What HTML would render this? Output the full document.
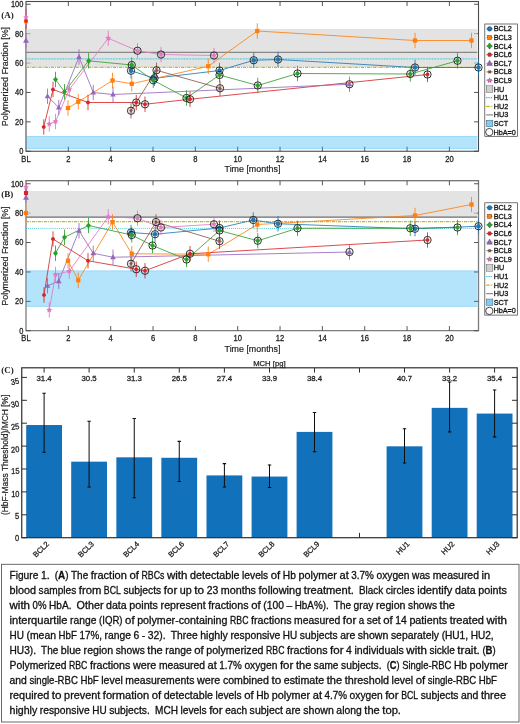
<!DOCTYPE html>
<html lang="en"><head><meta charset="utf-8"><title>Figure 1</title>
<style>html,body{margin:0;padding:0;background:#fff}svg{display:block}</style></head>
<body>
<svg width="520" height="724" viewBox="0 0 520 724">
<rect width="520" height="724" fill="#fff"/>
<g>
<rect x="26" y="1.5" width="452.5" height="149.75" fill="none" stroke="#4a4a4a" stroke-width="1.1"/>
<path d="M68.34,151.25v-4.5M68.34,1.5v4.5M110.68,151.25v-4.5M110.68,1.5v4.5M153.02,151.25v-4.5M153.02,1.5v4.5M195.36,151.25v-4.5M195.36,1.5v4.5M237.70,151.25v-4.5M237.70,1.5v4.5M280.04,151.25v-4.5M280.04,1.5v4.5M322.38,151.25v-4.5M322.38,1.5v4.5M364.72,151.25v-4.5M364.72,1.5v4.5M407.06,151.25v-4.5M407.06,1.5v4.5M449.40,151.25v-4.5M449.40,1.5v4.5M26,151.25h4.7M478.5,151.25h-4.5M26,121.85h4.7M478.5,121.85h-4.5M26,92.45h4.7M478.5,92.45h-4.5M26,63.05h4.7M478.5,63.05h-4.5M26,33.65h4.7M478.5,33.65h-4.5M26,4.25h4.7M478.5,4.25h-4.5" stroke="#444" stroke-width="0.9" fill="none"/>
<rect x="26.45" y="29.00" width="450.85" height="38.00" fill="#d4d4d4" fill-opacity="0.66"/>
<rect x="26.45" y="136.00" width="450.85" height="13.10" fill="#02a5f5" fill-opacity="0.3"/>
<path d="M26.45,136.40H477.3M26.45,148.70H477.3" stroke="#6fc4f2" stroke-opacity="0.45" stroke-width="0.8" fill="none"/>
<line x1="26" x2="477.3" y1="52.30" y2="52.30" stroke="#5c5c5c" stroke-width="0.85"/>
<line x1="26" x2="477.3" y1="58.80" y2="58.80" stroke="#35c4d6" stroke-width="1.25" stroke-dasharray="0.8 0.75"/>
<line x1="26" x2="477.3" y1="67.40" y2="67.40" stroke="#bdbe1e" stroke-width="1.15" stroke-dasharray="3.2 1 1 1"/>
<path d="M131.00,70.75L154.50,78.25L219.50,70.50L253.75,60.25L278.00,59.50L415.00,67.50L478.50,67.50" fill="none" stroke="#1f77b4" stroke-width="0.95" stroke-opacity="0.88"/>
<path d="M68.00,108.00L78.25,101.75L112.50,80.50L131.75,83.75L208.25,66.25L257.25,31.00L415.00,40.50L471.50,40.50" fill="none" stroke="#ff7f0e" stroke-width="0.95" stroke-opacity="0.88"/>
<path d="M55.50,79.50L64.50,91.75L88.60,60.80L131.75,65.00L153.25,80.25L186.50,98.00L219.50,75.00L257.75,85.50L297.50,73.50L410.25,74.00L457.50,60.75" fill="none" stroke="#2ca02c" stroke-width="0.95" stroke-opacity="0.88"/>
<path d="M43.75,127.00L53.00,89.50L88.00,102.50L136.25,102.50L145.00,104.25L190.00,99.25L427.50,74.50" fill="none" stroke="#d62728" stroke-width="0.95" stroke-opacity="0.88"/>
<path d="M47.50,96.25L58.75,107.50L79.00,57.00L93.25,92.50L113.00,94.50L349.50,84.25" fill="none" stroke="#9467bd" stroke-width="0.95" stroke-opacity="0.88"/>
<path d="M131.00,110.75L156.50,70.25L220.00,88.25" fill="none" stroke="#8c564b" stroke-width="0.95" stroke-opacity="0.88"/>
<path d="M49.25,124.00L55.50,121.50L69.25,89.50L108.25,38.25L137.50,50.75L161.00,54.50L214.00,55.50" fill="none" stroke="#e377c2" stroke-width="0.95" stroke-opacity="0.88"/>
<line x1="131.00" x2="131.00" y1="63.05" y2="78.45" stroke="#1f77b4" stroke-width="1" stroke-opacity="0.85"/>
<line x1="154.50" x2="154.50" y1="70.55" y2="85.95" stroke="#1f77b4" stroke-width="1" stroke-opacity="0.85"/>
<line x1="219.50" x2="219.50" y1="62.80" y2="78.20" stroke="#1f77b4" stroke-width="1" stroke-opacity="0.85"/>
<line x1="253.75" x2="253.75" y1="52.55" y2="67.95" stroke="#1f77b4" stroke-width="1" stroke-opacity="0.85"/>
<line x1="278.00" x2="278.00" y1="51.80" y2="67.20" stroke="#1f77b4" stroke-width="1" stroke-opacity="0.85"/>
<line x1="415.00" x2="415.00" y1="59.80" y2="75.20" stroke="#1f77b4" stroke-width="1" stroke-opacity="0.85"/>
<line x1="478.50" x2="478.50" y1="59.80" y2="75.20" stroke="#1f77b4" stroke-width="1" stroke-opacity="0.85"/>
<line x1="68.00" x2="68.00" y1="100.30" y2="115.70" stroke="#ff7f0e" stroke-width="1" stroke-opacity="0.85"/>
<line x1="78.25" x2="78.25" y1="94.05" y2="109.45" stroke="#ff7f0e" stroke-width="1" stroke-opacity="0.85"/>
<line x1="112.50" x2="112.50" y1="72.80" y2="88.20" stroke="#ff7f0e" stroke-width="1" stroke-opacity="0.85"/>
<line x1="131.75" x2="131.75" y1="76.05" y2="91.45" stroke="#ff7f0e" stroke-width="1" stroke-opacity="0.85"/>
<line x1="208.25" x2="208.25" y1="58.55" y2="73.95" stroke="#ff7f0e" stroke-width="1" stroke-opacity="0.85"/>
<line x1="257.25" x2="257.25" y1="23.30" y2="38.70" stroke="#ff7f0e" stroke-width="1" stroke-opacity="0.85"/>
<line x1="415.00" x2="415.00" y1="32.80" y2="48.20" stroke="#ff7f0e" stroke-width="1" stroke-opacity="0.85"/>
<line x1="471.50" x2="471.50" y1="32.80" y2="48.20" stroke="#ff7f0e" stroke-width="1" stroke-opacity="0.85"/>
<line x1="55.50" x2="55.50" y1="71.80" y2="87.20" stroke="#2ca02c" stroke-width="1" stroke-opacity="0.85"/>
<line x1="64.50" x2="64.50" y1="84.05" y2="99.45" stroke="#2ca02c" stroke-width="1" stroke-opacity="0.85"/>
<line x1="88.60" x2="88.60" y1="53.10" y2="68.50" stroke="#2ca02c" stroke-width="1" stroke-opacity="0.85"/>
<line x1="131.75" x2="131.75" y1="57.30" y2="72.70" stroke="#2ca02c" stroke-width="1" stroke-opacity="0.85"/>
<line x1="153.25" x2="153.25" y1="72.55" y2="87.95" stroke="#2ca02c" stroke-width="1" stroke-opacity="0.85"/>
<line x1="186.50" x2="186.50" y1="90.30" y2="105.70" stroke="#2ca02c" stroke-width="1" stroke-opacity="0.85"/>
<line x1="219.50" x2="219.50" y1="67.30" y2="82.70" stroke="#2ca02c" stroke-width="1" stroke-opacity="0.85"/>
<line x1="257.75" x2="257.75" y1="77.80" y2="93.20" stroke="#2ca02c" stroke-width="1" stroke-opacity="0.85"/>
<line x1="297.50" x2="297.50" y1="65.80" y2="81.20" stroke="#2ca02c" stroke-width="1" stroke-opacity="0.85"/>
<line x1="410.25" x2="410.25" y1="66.30" y2="81.70" stroke="#2ca02c" stroke-width="1" stroke-opacity="0.85"/>
<line x1="457.50" x2="457.50" y1="53.05" y2="68.45" stroke="#2ca02c" stroke-width="1" stroke-opacity="0.85"/>
<line x1="43.75" x2="43.75" y1="119.30" y2="134.70" stroke="#d62728" stroke-width="1" stroke-opacity="0.85"/>
<line x1="53.00" x2="53.00" y1="81.80" y2="97.20" stroke="#d62728" stroke-width="1" stroke-opacity="0.85"/>
<line x1="88.00" x2="88.00" y1="94.80" y2="110.20" stroke="#d62728" stroke-width="1" stroke-opacity="0.85"/>
<line x1="136.25" x2="136.25" y1="94.80" y2="110.20" stroke="#d62728" stroke-width="1" stroke-opacity="0.85"/>
<line x1="145.00" x2="145.00" y1="96.55" y2="111.95" stroke="#d62728" stroke-width="1" stroke-opacity="0.85"/>
<line x1="190.00" x2="190.00" y1="91.55" y2="106.95" stroke="#d62728" stroke-width="1" stroke-opacity="0.85"/>
<line x1="427.50" x2="427.50" y1="66.80" y2="82.20" stroke="#d62728" stroke-width="1" stroke-opacity="0.85"/>
<line x1="47.50" x2="47.50" y1="88.55" y2="103.95" stroke="#9467bd" stroke-width="1" stroke-opacity="0.85"/>
<line x1="58.75" x2="58.75" y1="99.80" y2="115.20" stroke="#9467bd" stroke-width="1" stroke-opacity="0.85"/>
<line x1="79.00" x2="79.00" y1="49.30" y2="64.70" stroke="#9467bd" stroke-width="1" stroke-opacity="0.85"/>
<line x1="93.25" x2="93.25" y1="84.80" y2="100.20" stroke="#9467bd" stroke-width="1" stroke-opacity="0.85"/>
<line x1="113.00" x2="113.00" y1="86.80" y2="102.20" stroke="#9467bd" stroke-width="1" stroke-opacity="0.85"/>
<line x1="349.50" x2="349.50" y1="76.55" y2="91.95" stroke="#9467bd" stroke-width="1" stroke-opacity="0.85"/>
<line x1="131.00" x2="131.00" y1="103.05" y2="118.45" stroke="#8c564b" stroke-width="1" stroke-opacity="0.85"/>
<line x1="156.50" x2="156.50" y1="62.55" y2="77.95" stroke="#8c564b" stroke-width="1" stroke-opacity="0.85"/>
<line x1="220.00" x2="220.00" y1="80.55" y2="95.95" stroke="#8c564b" stroke-width="1" stroke-opacity="0.85"/>
<line x1="49.25" x2="49.25" y1="116.30" y2="131.70" stroke="#e377c2" stroke-width="1" stroke-opacity="0.85"/>
<line x1="55.50" x2="55.50" y1="113.80" y2="129.20" stroke="#e377c2" stroke-width="1" stroke-opacity="0.85"/>
<line x1="69.25" x2="69.25" y1="81.80" y2="97.20" stroke="#e377c2" stroke-width="1" stroke-opacity="0.85"/>
<line x1="108.25" x2="108.25" y1="30.55" y2="45.95" stroke="#e377c2" stroke-width="1" stroke-opacity="0.85"/>
<line x1="137.50" x2="137.50" y1="43.05" y2="58.45" stroke="#e377c2" stroke-width="1" stroke-opacity="0.85"/>
<line x1="161.00" x2="161.00" y1="46.80" y2="62.20" stroke="#e377c2" stroke-width="1" stroke-opacity="0.85"/>
<line x1="214.00" x2="214.00" y1="47.80" y2="63.20" stroke="#e377c2" stroke-width="1" stroke-opacity="0.85"/>
<circle cx="131.00" cy="70.75" r="2.30" fill="#1f77b4"/>
<circle cx="131.00" cy="70.75" r="3.65" fill="none" stroke="#1c1c1c" stroke-width="0.9"/>
<circle cx="154.50" cy="78.25" r="2.30" fill="#1f77b4"/>
<circle cx="154.50" cy="78.25" r="3.65" fill="none" stroke="#1c1c1c" stroke-width="0.9"/>
<circle cx="219.50" cy="70.50" r="2.30" fill="#1f77b4"/>
<circle cx="219.50" cy="70.50" r="3.65" fill="none" stroke="#1c1c1c" stroke-width="0.9"/>
<circle cx="253.75" cy="60.25" r="2.30" fill="#1f77b4"/>
<circle cx="253.75" cy="60.25" r="3.65" fill="none" stroke="#1c1c1c" stroke-width="0.9"/>
<circle cx="278.00" cy="59.50" r="2.30" fill="#1f77b4"/>
<circle cx="278.00" cy="59.50" r="3.65" fill="none" stroke="#1c1c1c" stroke-width="0.9"/>
<circle cx="415.00" cy="67.50" r="2.30" fill="#1f77b4"/>
<circle cx="415.00" cy="67.50" r="3.65" fill="none" stroke="#1c1c1c" stroke-width="0.9"/>
<circle cx="478.50" cy="67.50" r="2.30" fill="#1f77b4"/>
<circle cx="478.50" cy="67.50" r="3.65" fill="none" stroke="#1c1c1c" stroke-width="0.9"/>
<rect x="65.85" y="105.85" width="4.30" height="4.30" fill="#ff7f0e"/>
<rect x="76.10" y="99.60" width="4.30" height="4.30" fill="#ff7f0e"/>
<rect x="110.35" y="78.35" width="4.30" height="4.30" fill="#ff7f0e"/>
<rect x="129.60" y="81.60" width="4.30" height="4.30" fill="#ff7f0e"/>
<rect x="206.10" y="64.10" width="4.30" height="4.30" fill="#ff7f0e"/>
<rect x="255.10" y="28.85" width="4.30" height="4.30" fill="#ff7f0e"/>
<rect x="412.85" y="38.35" width="4.30" height="4.30" fill="#ff7f0e"/>
<rect x="469.35" y="38.35" width="4.30" height="4.30" fill="#ff7f0e"/>
<polygon points="55.50,76.40 58.00,79.50 55.50,82.60 53.00,79.50" fill="#2ca02c"/>
<polygon points="64.50,88.65 67.00,91.75 64.50,94.85 62.00,91.75" fill="#2ca02c"/>
<polygon points="88.60,57.70 91.10,60.80 88.60,63.90 86.10,60.80" fill="#2ca02c"/>
<polygon points="131.75,61.90 134.25,65.00 131.75,68.10 129.25,65.00" fill="#2ca02c"/>
<circle cx="131.75" cy="65.00" r="3.65" fill="none" stroke="#1c1c1c" stroke-width="0.9"/>
<polygon points="153.25,77.15 155.75,80.25 153.25,83.35 150.75,80.25" fill="#2ca02c"/>
<circle cx="153.25" cy="80.25" r="3.65" fill="none" stroke="#1c1c1c" stroke-width="0.9"/>
<polygon points="186.50,94.90 189.00,98.00 186.50,101.10 184.00,98.00" fill="#2ca02c"/>
<circle cx="186.50" cy="98.00" r="3.65" fill="none" stroke="#1c1c1c" stroke-width="0.9"/>
<polygon points="219.50,71.90 222.00,75.00 219.50,78.10 217.00,75.00" fill="#2ca02c"/>
<circle cx="219.50" cy="75.00" r="3.65" fill="none" stroke="#1c1c1c" stroke-width="0.9"/>
<polygon points="257.75,82.40 260.25,85.50 257.75,88.60 255.25,85.50" fill="#2ca02c"/>
<circle cx="257.75" cy="85.50" r="3.65" fill="none" stroke="#1c1c1c" stroke-width="0.9"/>
<polygon points="297.50,70.40 300.00,73.50 297.50,76.60 295.00,73.50" fill="#2ca02c"/>
<circle cx="297.50" cy="73.50" r="3.65" fill="none" stroke="#1c1c1c" stroke-width="0.9"/>
<polygon points="410.25,70.90 412.75,74.00 410.25,77.10 407.75,74.00" fill="#2ca02c"/>
<circle cx="410.25" cy="74.00" r="3.65" fill="none" stroke="#1c1c1c" stroke-width="0.9"/>
<polygon points="457.50,57.65 460.00,60.75 457.50,63.85 455.00,60.75" fill="#2ca02c"/>
<circle cx="457.50" cy="60.75" r="3.65" fill="none" stroke="#1c1c1c" stroke-width="0.9"/>
<polygon points="45.90,127.00 44.83,128.86 42.67,128.86 41.60,127.00 42.67,125.14 44.83,125.14" fill="#d62728"/>
<polygon points="55.15,89.50 54.08,91.36 51.92,91.36 50.85,89.50 51.92,87.64 54.08,87.64" fill="#d62728"/>
<polygon points="90.15,102.50 89.08,104.36 86.92,104.36 85.85,102.50 86.92,100.64 89.08,100.64" fill="#d62728"/>
<polygon points="138.40,102.50 137.32,104.36 135.18,104.36 134.10,102.50 135.18,100.64 137.32,100.64" fill="#d62728"/>
<circle cx="136.25" cy="102.50" r="3.65" fill="none" stroke="#1c1c1c" stroke-width="0.9"/>
<polygon points="147.15,104.25 146.07,106.11 143.93,106.11 142.85,104.25 143.93,102.39 146.07,102.39" fill="#d62728"/>
<circle cx="145.00" cy="104.25" r="3.65" fill="none" stroke="#1c1c1c" stroke-width="0.9"/>
<polygon points="192.15,99.25 191.07,101.11 188.93,101.11 187.85,99.25 188.93,97.39 191.07,97.39" fill="#d62728"/>
<circle cx="190.00" cy="99.25" r="3.65" fill="none" stroke="#1c1c1c" stroke-width="0.9"/>
<polygon points="429.65,74.50 428.57,76.36 426.43,76.36 425.35,74.50 426.43,72.64 428.57,72.64" fill="#d62728"/>
<circle cx="427.50" cy="74.50" r="3.65" fill="none" stroke="#1c1c1c" stroke-width="0.9"/>
<polygon points="47.50,93.15 50.30,98.35 44.70,98.35" fill="#9467bd"/>
<polygon points="58.75,104.40 61.55,109.60 55.95,109.60" fill="#9467bd"/>
<polygon points="79.00,53.90 81.80,59.10 76.20,59.10" fill="#9467bd"/>
<polygon points="93.25,89.40 96.05,94.60 90.45,94.60" fill="#9467bd"/>
<polygon points="113.00,91.40 115.80,96.60 110.20,96.60" fill="#9467bd"/>
<polygon points="349.50,81.15 352.30,86.35 346.70,86.35" fill="#9467bd"/>
<circle cx="349.50" cy="84.25" r="3.65" fill="none" stroke="#1c1c1c" stroke-width="0.9"/>
<path d="M128.60,110.75L133.40,110.75M129.80,108.67L132.20,112.83M132.20,108.67L129.80,112.83" stroke="#8c564b" stroke-width="0.8" fill="none"/><circle cx="131.00" cy="110.75" r="1.20" fill="#8c564b"/>
<circle cx="131.00" cy="110.75" r="3.65" fill="none" stroke="#1c1c1c" stroke-width="0.9"/>
<path d="M154.10,70.25L158.90,70.25M155.30,68.17L157.70,72.33M157.70,68.17L155.30,72.33" stroke="#8c564b" stroke-width="0.8" fill="none"/><circle cx="156.50" cy="70.25" r="1.20" fill="#8c564b"/>
<circle cx="156.50" cy="70.25" r="3.65" fill="none" stroke="#1c1c1c" stroke-width="0.9"/>
<path d="M217.60,88.25L222.40,88.25M218.80,86.17L221.20,90.33M221.20,86.17L218.80,90.33" stroke="#8c564b" stroke-width="0.8" fill="none"/><circle cx="220.00" cy="88.25" r="1.20" fill="#8c564b"/>
<circle cx="220.00" cy="88.25" r="3.65" fill="none" stroke="#1c1c1c" stroke-width="0.9"/>
<polygon points="49.25,120.80 50.13,122.79 52.29,123.01 50.68,124.46 51.13,126.59 49.25,125.50 47.37,126.59 47.82,124.46 46.21,123.01 48.37,122.79" fill="#e377c2"/>
<polygon points="55.50,118.30 56.38,120.29 58.54,120.51 56.93,121.96 57.38,124.09 55.50,123.00 53.62,124.09 54.07,121.96 52.46,120.51 54.62,120.29" fill="#e377c2"/>
<polygon points="69.25,86.30 70.13,88.29 72.29,88.51 70.68,89.96 71.13,92.09 69.25,91.00 67.37,92.09 67.82,89.96 66.21,88.51 68.37,88.29" fill="#e377c2"/>
<polygon points="108.25,35.05 109.13,37.04 111.29,37.26 109.68,38.71 110.13,40.84 108.25,39.75 106.37,40.84 106.82,38.71 105.21,37.26 107.37,37.04" fill="#e377c2"/>
<polygon points="137.50,47.55 138.38,49.54 140.54,49.76 138.93,51.21 139.38,53.34 137.50,52.25 135.62,53.34 136.07,51.21 134.46,49.76 136.62,49.54" fill="#e377c2"/>
<circle cx="137.50" cy="50.75" r="3.65" fill="none" stroke="#1c1c1c" stroke-width="0.9"/>
<polygon points="161.00,51.30 161.88,53.29 164.04,53.51 162.43,54.96 162.88,57.09 161.00,56.00 159.12,57.09 159.57,54.96 157.96,53.51 160.12,53.29" fill="#e377c2"/>
<circle cx="161.00" cy="54.50" r="3.65" fill="none" stroke="#1c1c1c" stroke-width="0.9"/>
<polygon points="214.00,52.30 214.88,54.29 217.04,54.51 215.43,55.96 215.88,58.09 214.00,57.00 212.12,58.09 212.57,55.96 210.96,54.51 213.12,54.29" fill="#e377c2"/>
<circle cx="214.00" cy="55.50" r="3.65" fill="none" stroke="#1c1c1c" stroke-width="0.9"/>
<line x1="26" x2="26" y1="21.20" y2="21.20" stroke="#ff7f0e" stroke-width="1.2" stroke-opacity="0.55"/>
<line x1="26" x2="26" y1="9.00" y2="29.00" stroke="#d62728" stroke-width="1.2" stroke-opacity="0.55"/>
<line x1="26" x2="26" y1="9.40" y2="25.40" stroke="#e377c2" stroke-width="1.2" stroke-opacity="0.55"/>
<line x1="26" x2="26" y1="33.60" y2="48.60" stroke="#9467bd" stroke-width="1.2" stroke-opacity="0.55"/>
<rect x="23.96" y="19.16" width="4.08" height="4.08" fill="#ff7f0e"/>
<polygon points="27.72,21.00 26.86,22.49 25.14,22.49 24.28,21.00 25.14,19.51 26.86,19.51" fill="#d62728"/>
<polygon points="26.00,14.36 26.84,16.25 28.89,16.46 27.36,17.84 27.79,19.86 26.00,18.82 24.21,19.86 24.64,17.84 23.11,16.46 25.16,16.25" fill="#e377c2"/>
<polygon points="26.00,37.34 28.94,42.80 23.06,42.80" fill="#9467bd"/>
<g font-family='"Liberation Sans", Arial, sans-serif' fill="#262626" stroke="#262626" stroke-width="0.3">
<text transform="translate(23.40,154.15) scale(0.9,1)" font-size="8.3" text-anchor="end">0</text>
<text transform="translate(23.40,124.75) scale(0.9,1)" font-size="8.3" text-anchor="end">20</text>
<text transform="translate(23.40,95.35) scale(0.9,1)" font-size="8.3" text-anchor="end">40</text>
<text transform="translate(23.40,65.95) scale(0.9,1)" font-size="8.3" text-anchor="end">60</text>
<text transform="translate(23.40,36.55) scale(0.9,1)" font-size="8.3" text-anchor="end">80</text>
<text transform="translate(23.40,7.15) scale(0.9,1)" font-size="8.3" text-anchor="end">100</text>
<text transform="translate(26.00,162.15) scale(0.9,1)" font-size="8.4" text-anchor="middle">BL</text>
<text transform="translate(68.34,162.15) scale(0.9,1)" font-size="8.4" text-anchor="middle">2</text>
<text transform="translate(110.68,162.15) scale(0.9,1)" font-size="8.4" text-anchor="middle">4</text>
<text transform="translate(153.02,162.15) scale(0.9,1)" font-size="8.4" text-anchor="middle">6</text>
<text transform="translate(195.36,162.15) scale(0.9,1)" font-size="8.4" text-anchor="middle">8</text>
<text transform="translate(237.70,162.15) scale(0.9,1)" font-size="8.4" text-anchor="middle">10</text>
<text transform="translate(280.04,162.15) scale(0.9,1)" font-size="8.4" text-anchor="middle">12</text>
<text transform="translate(322.38,162.15) scale(0.9,1)" font-size="8.4" text-anchor="middle">14</text>
<text transform="translate(364.72,162.15) scale(0.9,1)" font-size="8.4" text-anchor="middle">16</text>
<text transform="translate(407.06,162.15) scale(0.9,1)" font-size="8.4" text-anchor="middle">18</text>
<text transform="translate(449.40,162.15) scale(0.9,1)" font-size="8.4" text-anchor="middle">20</text>
</g>
<text x="252.5" y="172.25" text-anchor="middle" font-family='"Liberation Sans", Arial, sans-serif' font-size="8.9" fill="#262626" stroke="#262626" stroke-width="0.2">Time [months]</text>
<text transform="translate(8.2,76.6) rotate(-90)" text-anchor="middle" font-family='"Liberation Sans", Arial, sans-serif' font-size="8.95" fill="#262626" stroke="#262626" stroke-width="0.2">Polymerized Fraction [%]</text>
<text x="1.2" y="17.90" font-family='"Liberation Serif", serif' font-weight="bold" font-size="9" fill="#222">(A)</text>
<rect x="484.8" y="24" width="32.7" height="112.3" fill="#fff" stroke="#3a3a3a" stroke-width="0.7"/>
<g font-family='"Liberation Sans", Arial, sans-serif' fill="#111" stroke="#111" stroke-width="0.3">
<line x1="486.3" x2="492.90000000000003" y1="28.90" y2="28.90" stroke="#1f77b4" stroke-width="0.7"/>
<circle cx="489.60" cy="28.90" r="2.30" fill="#1f77b4"/>
<text transform="translate(493.70,31.45) scale(0.9,1)" font-size="8.1" text-anchor="start">BCL2</text>
<line x1="486.3" x2="492.90000000000003" y1="37.50" y2="37.50" stroke="#ff7f0e" stroke-width="0.7"/>
<rect x="487.45" y="35.35" width="4.30" height="4.30" fill="#ff7f0e"/>
<text transform="translate(493.70,40.05) scale(0.9,1)" font-size="8.1" text-anchor="start">BCL3</text>
<line x1="486.3" x2="492.90000000000003" y1="46.10" y2="46.10" stroke="#2ca02c" stroke-width="0.7"/>
<polygon points="489.60,43.00 492.10,46.10 489.60,49.20 487.10,46.10" fill="#2ca02c"/>
<text transform="translate(493.70,48.65) scale(0.9,1)" font-size="8.1" text-anchor="start">BCL4</text>
<line x1="486.3" x2="492.90000000000003" y1="54.70" y2="54.70" stroke="#d62728" stroke-width="0.7"/>
<polygon points="491.75,54.70 490.68,56.56 488.53,56.56 487.45,54.70 488.53,52.84 490.68,52.84" fill="#d62728"/>
<text transform="translate(493.70,57.25) scale(0.9,1)" font-size="8.1" text-anchor="start">BCL6</text>
<line x1="486.3" x2="492.90000000000003" y1="63.30" y2="63.30" stroke="#9467bd" stroke-width="0.7"/>
<polygon points="489.60,60.20 492.40,65.40 486.80,65.40" fill="#9467bd"/>
<text transform="translate(493.70,65.85) scale(0.9,1)" font-size="8.1" text-anchor="start">BCL7</text>
<line x1="486.3" x2="492.90000000000003" y1="71.90" y2="71.90" stroke="#8c564b" stroke-width="0.7"/>
<path d="M487.56,71.90L491.64,71.90M488.58,70.13L490.62,73.67M490.62,70.13L488.58,73.67" stroke="#8c564b" stroke-width="0.8" fill="none"/><circle cx="489.60" cy="71.90" r="1.02" fill="#8c564b"/>
<text transform="translate(493.70,74.45) scale(0.9,1)" font-size="8.1" text-anchor="start">BCL8</text>
<line x1="486.3" x2="492.90000000000003" y1="80.50" y2="80.50" stroke="#e377c2" stroke-width="0.7"/>
<polygon points="489.60,77.94 490.31,79.53 492.03,79.71 490.74,80.87 491.10,82.57 489.60,81.70 488.10,82.57 488.46,80.87 487.17,79.71 488.89,79.53" fill="#e377c2"/>
<text transform="translate(493.70,83.05) scale(0.9,1)" font-size="8.1" text-anchor="start">BCL9</text>
<rect x="486.3" y="85.80" width="6.6" height="6.6" fill="#d0d0d0"/>
<text transform="translate(493.70,91.65) scale(0.9,1)" font-size="8.1" text-anchor="start">HU</text>
<line x1="486.1" x2="493.1" y1="97.70" y2="97.70" stroke="#2fc3d5" stroke-width="1.2" stroke-dasharray="1.4 0.9"/>
<text transform="translate(493.70,100.25) scale(0.9,1)" font-size="8.1" text-anchor="start">HU1</text>
<line x1="486.1" x2="493.1" y1="106.30" y2="106.30" stroke="#bdbe1e" stroke-width="1.2" stroke-dasharray="3.6 1 1 1"/>
<text transform="translate(493.70,108.85) scale(0.9,1)" font-size="8.1" text-anchor="start">HU2</text>
<line x1="486.1" x2="493.1" y1="114.90" y2="114.90" stroke="#5c5c5c" stroke-width="0.85"/>
<text transform="translate(493.70,117.45) scale(0.9,1)" font-size="8.1" text-anchor="start">HU3</text>
<rect x="486.3" y="120.20" width="6.6" height="6.6" fill="#7fcdf7"/>
<text transform="translate(493.70,126.05) scale(0.9,1)" font-size="8.1" text-anchor="start">SCT</text>
<circle cx="489.3" cy="132.10" r="3.65" fill="none" stroke="#1c1c1c" stroke-width="0.8"/>
<text transform="translate(493.40,134.65) scale(0.9,1)" font-size="8.1" text-anchor="start">HbA=0</text>
</g>
</g>
<g>
<path d="M26,180.8V330.6H478.5V180.8" fill="none" stroke="#7c7c7c" stroke-width="1.3"/>
<path d="M25.4,180.8H479.1" fill="none" stroke="#4a4a4a" stroke-width="1.1"/>
<path d="M68.34,330.6v-4.5M68.34,180.8v4.5M110.68,330.6v-4.5M110.68,180.8v4.5M153.02,330.6v-4.5M153.02,180.8v4.5M195.36,330.6v-4.5M195.36,180.8v4.5M237.70,330.6v-4.5M237.70,180.8v4.5M280.04,330.6v-4.5M280.04,180.8v4.5M322.38,330.6v-4.5M322.38,180.8v4.5M364.72,330.6v-4.5M364.72,180.8v4.5M407.06,330.6v-4.5M407.06,180.8v4.5M449.40,330.6v-4.5M449.40,180.8v4.5M26,330.75h4.7M478.5,330.75h-4.5M26,301.35h4.7M478.5,301.35h-4.5M26,271.95h4.7M478.5,271.95h-4.5M26,242.55h4.7M478.5,242.55h-4.5M26,213.15h4.7M478.5,213.15h-4.5M26,183.75h4.7M478.5,183.75h-4.5" stroke="#444" stroke-width="0.9" fill="none"/>
<rect x="26.45" y="191.00" width="450.85" height="26.20" fill="#d4d4d4" fill-opacity="0.66"/>
<rect x="26.45" y="270.50" width="450.85" height="36.25" fill="#02a5f5" fill-opacity="0.3"/>
<path d="M26.45,270.90H477.3M26.45,306.35H477.3" stroke="#6fc4f2" stroke-opacity="0.45" stroke-width="0.8" fill="none"/>
<line x1="26" x2="477.3" y1="217.20" y2="217.20" stroke="#6e6e6e" stroke-width="1.2"/>
<line x1="26" x2="477.3" y1="221.60" y2="221.60" stroke="#bdbe1e" stroke-width="1.3" stroke-dasharray="3.2 0.9 1 0.9"/>
<line x1="26" x2="477.3" y1="228.40" y2="228.40" stroke="#2fc3d5" stroke-width="0.95" stroke-dasharray="0.9 1.15"/>
<path d="M131.00,232.50L155.00,234.25L219.50,228.00L253.25,220.00L278.00,223.75L415.00,228.75L478.50,226.25" fill="none" stroke="#1f77b4" stroke-width="0.95" stroke-opacity="0.88"/>
<path d="M68.00,260.75L78.25,280.25L112.50,222.00L131.75,253.75L208.25,254.25L257.25,224.50L415.00,215.50L471.50,204.50" fill="none" stroke="#ff7f0e" stroke-width="0.95" stroke-opacity="0.88"/>
<path d="M55.50,253.25L64.50,237.25L88.50,225.50L131.75,235.00L152.50,245.50L186.50,259.50L219.50,230.50L257.75,240.75L297.50,228.25L410.25,228.25L457.50,227.50" fill="none" stroke="#2ca02c" stroke-width="0.95" stroke-opacity="0.88"/>
<path d="M44.00,295.00L53.00,239.00L88.00,260.75L136.25,269.25L145.00,270.75L190.00,253.75L427.50,240.00" fill="none" stroke="#d62728" stroke-width="0.95" stroke-opacity="0.88"/>
<path d="M47.50,285.75L58.75,281.25L79.00,230.75L93.25,253.25L113.00,257.25L349.50,252.00" fill="none" stroke="#9467bd" stroke-width="0.95" stroke-opacity="0.88"/>
<path d="M131.00,263.75L156.00,222.00L219.50,241.25" fill="none" stroke="#8c564b" stroke-width="0.95" stroke-opacity="0.88"/>
<path d="M49.25,310.00L55.50,274.50L69.25,271.25L108.25,216.75L137.50,218.25L161.00,227.50L214.00,224.25" fill="none" stroke="#e377c2" stroke-width="0.95" stroke-opacity="0.88"/>
<line x1="131.00" x2="131.00" y1="224.80" y2="240.20" stroke="#1f77b4" stroke-width="1" stroke-opacity="0.85"/>
<line x1="155.00" x2="155.00" y1="226.55" y2="241.95" stroke="#1f77b4" stroke-width="1" stroke-opacity="0.85"/>
<line x1="219.50" x2="219.50" y1="220.30" y2="235.70" stroke="#1f77b4" stroke-width="1" stroke-opacity="0.85"/>
<line x1="253.25" x2="253.25" y1="212.30" y2="227.70" stroke="#1f77b4" stroke-width="1" stroke-opacity="0.85"/>
<line x1="278.00" x2="278.00" y1="216.05" y2="231.45" stroke="#1f77b4" stroke-width="1" stroke-opacity="0.85"/>
<line x1="415.00" x2="415.00" y1="221.05" y2="236.45" stroke="#1f77b4" stroke-width="1" stroke-opacity="0.85"/>
<line x1="478.50" x2="478.50" y1="218.55" y2="233.95" stroke="#1f77b4" stroke-width="1" stroke-opacity="0.85"/>
<line x1="68.00" x2="68.00" y1="253.05" y2="268.45" stroke="#ff7f0e" stroke-width="1" stroke-opacity="0.85"/>
<line x1="78.25" x2="78.25" y1="272.55" y2="287.95" stroke="#ff7f0e" stroke-width="1" stroke-opacity="0.85"/>
<line x1="112.50" x2="112.50" y1="214.30" y2="229.70" stroke="#ff7f0e" stroke-width="1" stroke-opacity="0.85"/>
<line x1="131.75" x2="131.75" y1="246.05" y2="261.45" stroke="#ff7f0e" stroke-width="1" stroke-opacity="0.85"/>
<line x1="208.25" x2="208.25" y1="246.55" y2="261.95" stroke="#ff7f0e" stroke-width="1" stroke-opacity="0.85"/>
<line x1="257.25" x2="257.25" y1="216.80" y2="232.20" stroke="#ff7f0e" stroke-width="1" stroke-opacity="0.85"/>
<line x1="415.00" x2="415.00" y1="207.80" y2="223.20" stroke="#ff7f0e" stroke-width="1" stroke-opacity="0.85"/>
<line x1="471.50" x2="471.50" y1="196.80" y2="212.20" stroke="#ff7f0e" stroke-width="1" stroke-opacity="0.85"/>
<line x1="55.50" x2="55.50" y1="245.55" y2="260.95" stroke="#2ca02c" stroke-width="1" stroke-opacity="0.85"/>
<line x1="64.50" x2="64.50" y1="229.55" y2="244.95" stroke="#2ca02c" stroke-width="1" stroke-opacity="0.85"/>
<line x1="88.50" x2="88.50" y1="217.80" y2="233.20" stroke="#2ca02c" stroke-width="1" stroke-opacity="0.85"/>
<line x1="131.75" x2="131.75" y1="227.30" y2="242.70" stroke="#2ca02c" stroke-width="1" stroke-opacity="0.85"/>
<line x1="152.50" x2="152.50" y1="237.80" y2="253.20" stroke="#2ca02c" stroke-width="1" stroke-opacity="0.85"/>
<line x1="186.50" x2="186.50" y1="251.80" y2="267.20" stroke="#2ca02c" stroke-width="1" stroke-opacity="0.85"/>
<line x1="219.50" x2="219.50" y1="222.80" y2="238.20" stroke="#2ca02c" stroke-width="1" stroke-opacity="0.85"/>
<line x1="257.75" x2="257.75" y1="233.05" y2="248.45" stroke="#2ca02c" stroke-width="1" stroke-opacity="0.85"/>
<line x1="297.50" x2="297.50" y1="220.55" y2="235.95" stroke="#2ca02c" stroke-width="1" stroke-opacity="0.85"/>
<line x1="410.25" x2="410.25" y1="220.55" y2="235.95" stroke="#2ca02c" stroke-width="1" stroke-opacity="0.85"/>
<line x1="457.50" x2="457.50" y1="219.80" y2="235.20" stroke="#2ca02c" stroke-width="1" stroke-opacity="0.85"/>
<line x1="44.00" x2="44.00" y1="287.30" y2="302.70" stroke="#d62728" stroke-width="1" stroke-opacity="0.85"/>
<line x1="53.00" x2="53.00" y1="231.30" y2="246.70" stroke="#d62728" stroke-width="1" stroke-opacity="0.85"/>
<line x1="88.00" x2="88.00" y1="253.05" y2="268.45" stroke="#d62728" stroke-width="1" stroke-opacity="0.85"/>
<line x1="136.25" x2="136.25" y1="261.55" y2="276.95" stroke="#d62728" stroke-width="1" stroke-opacity="0.85"/>
<line x1="145.00" x2="145.00" y1="263.05" y2="278.45" stroke="#d62728" stroke-width="1" stroke-opacity="0.85"/>
<line x1="190.00" x2="190.00" y1="246.05" y2="261.45" stroke="#d62728" stroke-width="1" stroke-opacity="0.85"/>
<line x1="427.50" x2="427.50" y1="232.30" y2="247.70" stroke="#d62728" stroke-width="1" stroke-opacity="0.85"/>
<line x1="47.50" x2="47.50" y1="278.05" y2="293.45" stroke="#9467bd" stroke-width="1" stroke-opacity="0.85"/>
<line x1="58.75" x2="58.75" y1="273.55" y2="288.95" stroke="#9467bd" stroke-width="1" stroke-opacity="0.85"/>
<line x1="79.00" x2="79.00" y1="223.05" y2="238.45" stroke="#9467bd" stroke-width="1" stroke-opacity="0.85"/>
<line x1="93.25" x2="93.25" y1="245.55" y2="260.95" stroke="#9467bd" stroke-width="1" stroke-opacity="0.85"/>
<line x1="113.00" x2="113.00" y1="249.55" y2="264.95" stroke="#9467bd" stroke-width="1" stroke-opacity="0.85"/>
<line x1="349.50" x2="349.50" y1="244.30" y2="259.70" stroke="#9467bd" stroke-width="1" stroke-opacity="0.85"/>
<line x1="131.00" x2="131.00" y1="256.05" y2="271.45" stroke="#8c564b" stroke-width="1" stroke-opacity="0.85"/>
<line x1="156.00" x2="156.00" y1="214.30" y2="229.70" stroke="#8c564b" stroke-width="1" stroke-opacity="0.85"/>
<line x1="219.50" x2="219.50" y1="233.55" y2="248.95" stroke="#8c564b" stroke-width="1" stroke-opacity="0.85"/>
<line x1="49.25" x2="49.25" y1="302.30" y2="317.70" stroke="#e377c2" stroke-width="1" stroke-opacity="0.85"/>
<line x1="55.50" x2="55.50" y1="266.80" y2="282.20" stroke="#e377c2" stroke-width="1" stroke-opacity="0.85"/>
<line x1="69.25" x2="69.25" y1="263.55" y2="278.95" stroke="#e377c2" stroke-width="1" stroke-opacity="0.85"/>
<line x1="108.25" x2="108.25" y1="209.05" y2="224.45" stroke="#e377c2" stroke-width="1" stroke-opacity="0.85"/>
<line x1="137.50" x2="137.50" y1="210.55" y2="225.95" stroke="#e377c2" stroke-width="1" stroke-opacity="0.85"/>
<line x1="161.00" x2="161.00" y1="219.80" y2="235.20" stroke="#e377c2" stroke-width="1" stroke-opacity="0.85"/>
<line x1="214.00" x2="214.00" y1="216.55" y2="231.95" stroke="#e377c2" stroke-width="1" stroke-opacity="0.85"/>
<circle cx="131.00" cy="232.50" r="2.30" fill="#1f77b4"/>
<circle cx="131.00" cy="232.50" r="3.65" fill="none" stroke="#1c1c1c" stroke-width="0.9"/>
<circle cx="155.00" cy="234.25" r="2.30" fill="#1f77b4"/>
<circle cx="155.00" cy="234.25" r="3.65" fill="none" stroke="#1c1c1c" stroke-width="0.9"/>
<circle cx="219.50" cy="228.00" r="2.30" fill="#1f77b4"/>
<circle cx="219.50" cy="228.00" r="3.65" fill="none" stroke="#1c1c1c" stroke-width="0.9"/>
<circle cx="253.25" cy="220.00" r="2.30" fill="#1f77b4"/>
<circle cx="253.25" cy="220.00" r="3.65" fill="none" stroke="#1c1c1c" stroke-width="0.9"/>
<circle cx="278.00" cy="223.75" r="2.30" fill="#1f77b4"/>
<circle cx="278.00" cy="223.75" r="3.65" fill="none" stroke="#1c1c1c" stroke-width="0.9"/>
<circle cx="415.00" cy="228.75" r="2.30" fill="#1f77b4"/>
<circle cx="415.00" cy="228.75" r="3.65" fill="none" stroke="#1c1c1c" stroke-width="0.9"/>
<circle cx="478.50" cy="226.25" r="2.30" fill="#1f77b4"/>
<circle cx="478.50" cy="226.25" r="3.65" fill="none" stroke="#1c1c1c" stroke-width="0.9"/>
<rect x="65.85" y="258.60" width="4.30" height="4.30" fill="#ff7f0e"/>
<rect x="76.10" y="278.10" width="4.30" height="4.30" fill="#ff7f0e"/>
<rect x="110.35" y="219.85" width="4.30" height="4.30" fill="#ff7f0e"/>
<rect x="129.60" y="251.60" width="4.30" height="4.30" fill="#ff7f0e"/>
<rect x="206.10" y="252.10" width="4.30" height="4.30" fill="#ff7f0e"/>
<rect x="255.10" y="222.35" width="4.30" height="4.30" fill="#ff7f0e"/>
<rect x="412.85" y="213.35" width="4.30" height="4.30" fill="#ff7f0e"/>
<rect x="469.35" y="202.35" width="4.30" height="4.30" fill="#ff7f0e"/>
<polygon points="55.50,250.15 58.00,253.25 55.50,256.35 53.00,253.25" fill="#2ca02c"/>
<polygon points="64.50,234.15 67.00,237.25 64.50,240.35 62.00,237.25" fill="#2ca02c"/>
<polygon points="88.50,222.40 91.00,225.50 88.50,228.60 86.00,225.50" fill="#2ca02c"/>
<polygon points="131.75,231.90 134.25,235.00 131.75,238.10 129.25,235.00" fill="#2ca02c"/>
<circle cx="131.75" cy="235.00" r="3.65" fill="none" stroke="#1c1c1c" stroke-width="0.9"/>
<polygon points="152.50,242.40 155.00,245.50 152.50,248.60 150.00,245.50" fill="#2ca02c"/>
<circle cx="152.50" cy="245.50" r="3.65" fill="none" stroke="#1c1c1c" stroke-width="0.9"/>
<polygon points="186.50,256.40 189.00,259.50 186.50,262.60 184.00,259.50" fill="#2ca02c"/>
<circle cx="186.50" cy="259.50" r="3.65" fill="none" stroke="#1c1c1c" stroke-width="0.9"/>
<polygon points="219.50,227.40 222.00,230.50 219.50,233.60 217.00,230.50" fill="#2ca02c"/>
<circle cx="219.50" cy="230.50" r="3.65" fill="none" stroke="#1c1c1c" stroke-width="0.9"/>
<polygon points="257.75,237.65 260.25,240.75 257.75,243.85 255.25,240.75" fill="#2ca02c"/>
<circle cx="257.75" cy="240.75" r="3.65" fill="none" stroke="#1c1c1c" stroke-width="0.9"/>
<polygon points="297.50,225.15 300.00,228.25 297.50,231.35 295.00,228.25" fill="#2ca02c"/>
<circle cx="297.50" cy="228.25" r="3.65" fill="none" stroke="#1c1c1c" stroke-width="0.9"/>
<polygon points="410.25,225.15 412.75,228.25 410.25,231.35 407.75,228.25" fill="#2ca02c"/>
<circle cx="410.25" cy="228.25" r="3.65" fill="none" stroke="#1c1c1c" stroke-width="0.9"/>
<polygon points="457.50,224.40 460.00,227.50 457.50,230.60 455.00,227.50" fill="#2ca02c"/>
<circle cx="457.50" cy="227.50" r="3.65" fill="none" stroke="#1c1c1c" stroke-width="0.9"/>
<polygon points="46.15,295.00 45.08,296.86 42.92,296.86 41.85,295.00 42.92,293.14 45.08,293.14" fill="#d62728"/>
<polygon points="55.15,239.00 54.08,240.86 51.92,240.86 50.85,239.00 51.92,237.14 54.08,237.14" fill="#d62728"/>
<polygon points="90.15,260.75 89.08,262.61 86.92,262.61 85.85,260.75 86.92,258.89 89.08,258.89" fill="#d62728"/>
<polygon points="138.40,269.25 137.32,271.11 135.18,271.11 134.10,269.25 135.18,267.39 137.32,267.39" fill="#d62728"/>
<circle cx="136.25" cy="269.25" r="3.65" fill="none" stroke="#1c1c1c" stroke-width="0.9"/>
<polygon points="147.15,270.75 146.07,272.61 143.93,272.61 142.85,270.75 143.93,268.89 146.07,268.89" fill="#d62728"/>
<circle cx="145.00" cy="270.75" r="3.65" fill="none" stroke="#1c1c1c" stroke-width="0.9"/>
<polygon points="192.15,253.75 191.07,255.61 188.93,255.61 187.85,253.75 188.93,251.89 191.07,251.89" fill="#d62728"/>
<circle cx="190.00" cy="253.75" r="3.65" fill="none" stroke="#1c1c1c" stroke-width="0.9"/>
<polygon points="429.65,240.00 428.57,241.86 426.43,241.86 425.35,240.00 426.43,238.14 428.57,238.14" fill="#d62728"/>
<circle cx="427.50" cy="240.00" r="3.65" fill="none" stroke="#1c1c1c" stroke-width="0.9"/>
<polygon points="47.50,282.65 50.30,287.85 44.70,287.85" fill="#9467bd"/>
<polygon points="58.75,278.15 61.55,283.35 55.95,283.35" fill="#9467bd"/>
<polygon points="79.00,227.65 81.80,232.85 76.20,232.85" fill="#9467bd"/>
<polygon points="93.25,250.15 96.05,255.35 90.45,255.35" fill="#9467bd"/>
<polygon points="113.00,254.15 115.80,259.35 110.20,259.35" fill="#9467bd"/>
<polygon points="349.50,248.90 352.30,254.10 346.70,254.10" fill="#9467bd"/>
<circle cx="349.50" cy="252.00" r="3.65" fill="none" stroke="#1c1c1c" stroke-width="0.9"/>
<path d="M128.60,263.75L133.40,263.75M129.80,261.67L132.20,265.83M132.20,261.67L129.80,265.83" stroke="#8c564b" stroke-width="0.8" fill="none"/><circle cx="131.00" cy="263.75" r="1.20" fill="#8c564b"/>
<circle cx="131.00" cy="263.75" r="3.65" fill="none" stroke="#1c1c1c" stroke-width="0.9"/>
<path d="M153.60,222.00L158.40,222.00M154.80,219.92L157.20,224.08M157.20,219.92L154.80,224.08" stroke="#8c564b" stroke-width="0.8" fill="none"/><circle cx="156.00" cy="222.00" r="1.20" fill="#8c564b"/>
<circle cx="156.00" cy="222.00" r="3.65" fill="none" stroke="#1c1c1c" stroke-width="0.9"/>
<path d="M217.10,241.25L221.90,241.25M218.30,239.17L220.70,243.33M220.70,239.17L218.30,243.33" stroke="#8c564b" stroke-width="0.8" fill="none"/><circle cx="219.50" cy="241.25" r="1.20" fill="#8c564b"/>
<circle cx="219.50" cy="241.25" r="3.65" fill="none" stroke="#1c1c1c" stroke-width="0.9"/>
<polygon points="49.25,306.80 50.13,308.79 52.29,309.01 50.68,310.46 51.13,312.59 49.25,311.50 47.37,312.59 47.82,310.46 46.21,309.01 48.37,308.79" fill="#e377c2"/>
<polygon points="55.50,271.30 56.38,273.29 58.54,273.51 56.93,274.96 57.38,277.09 55.50,276.00 53.62,277.09 54.07,274.96 52.46,273.51 54.62,273.29" fill="#e377c2"/>
<polygon points="69.25,268.05 70.13,270.04 72.29,270.26 70.68,271.71 71.13,273.84 69.25,272.75 67.37,273.84 67.82,271.71 66.21,270.26 68.37,270.04" fill="#e377c2"/>
<polygon points="108.25,213.55 109.13,215.54 111.29,215.76 109.68,217.21 110.13,219.34 108.25,218.25 106.37,219.34 106.82,217.21 105.21,215.76 107.37,215.54" fill="#e377c2"/>
<polygon points="137.50,215.05 138.38,217.04 140.54,217.26 138.93,218.71 139.38,220.84 137.50,219.75 135.62,220.84 136.07,218.71 134.46,217.26 136.62,217.04" fill="#e377c2"/>
<circle cx="137.50" cy="218.25" r="3.65" fill="none" stroke="#1c1c1c" stroke-width="0.9"/>
<polygon points="161.00,224.30 161.88,226.29 164.04,226.51 162.43,227.96 162.88,230.09 161.00,229.00 159.12,230.09 159.57,227.96 157.96,226.51 160.12,226.29" fill="#e377c2"/>
<circle cx="161.00" cy="227.50" r="3.65" fill="none" stroke="#1c1c1c" stroke-width="0.9"/>
<polygon points="214.00,221.05 214.88,223.04 217.04,223.26 215.43,224.71 215.88,226.84 214.00,225.75 212.12,226.84 212.57,224.71 210.96,223.26 213.12,223.04" fill="#e377c2"/>
<circle cx="214.00" cy="224.25" r="3.65" fill="none" stroke="#1c1c1c" stroke-width="0.9"/>
<line x1="26" x2="26" y1="184.00" y2="192.00" stroke="#e377c2" stroke-width="1.2" stroke-opacity="0.55"/>
<line x1="26" x2="26" y1="189.00" y2="197.00" stroke="#d62728" stroke-width="1.2" stroke-opacity="0.55"/>
<line x1="26" x2="26" y1="193.50" y2="203.50" stroke="#9467bd" stroke-width="1.2" stroke-opacity="0.55"/>
<line x1="26" x2="26" y1="205.00" y2="221.00" stroke="#ff7f0e" stroke-width="1.2" stroke-opacity="0.55"/>
<polygon points="26.00,183.96 26.84,185.85 28.89,186.06 27.36,187.44 27.79,189.46 26.00,188.43 24.21,189.46 24.64,187.44 23.11,186.06 25.16,185.85" fill="#e377c2"/>
<rect x="23.96" y="190.96" width="4.08" height="4.08" fill="#d62728"/>
<polygon points="26.00,194.25 28.94,199.71 23.06,199.71" fill="#9467bd"/>
<rect x="23.96" y="210.96" width="4.08" height="4.08" fill="#ff7f0e"/>
<g font-family='"Liberation Sans", Arial, sans-serif' fill="#262626" stroke="#262626" stroke-width="0.3">
<text transform="translate(23.40,333.65) scale(0.9,1)" font-size="8.3" text-anchor="end">0</text>
<text transform="translate(23.40,304.25) scale(0.9,1)" font-size="8.3" text-anchor="end">20</text>
<text transform="translate(23.40,274.85) scale(0.9,1)" font-size="8.3" text-anchor="end">40</text>
<text transform="translate(23.40,245.45) scale(0.9,1)" font-size="8.3" text-anchor="end">60</text>
<text transform="translate(23.40,216.05) scale(0.9,1)" font-size="8.3" text-anchor="end">80</text>
<text transform="translate(23.40,186.65) scale(0.9,1)" font-size="8.3" text-anchor="end">100</text>
<text transform="translate(26.00,340.80) scale(0.9,1)" font-size="8.4" text-anchor="middle">BL</text>
<text transform="translate(68.34,340.80) scale(0.9,1)" font-size="8.4" text-anchor="middle">2</text>
<text transform="translate(110.68,340.80) scale(0.9,1)" font-size="8.4" text-anchor="middle">4</text>
<text transform="translate(153.02,340.80) scale(0.9,1)" font-size="8.4" text-anchor="middle">6</text>
<text transform="translate(195.36,340.80) scale(0.9,1)" font-size="8.4" text-anchor="middle">8</text>
<text transform="translate(237.70,340.80) scale(0.9,1)" font-size="8.4" text-anchor="middle">10</text>
<text transform="translate(280.04,340.80) scale(0.9,1)" font-size="8.4" text-anchor="middle">12</text>
<text transform="translate(322.38,340.80) scale(0.9,1)" font-size="8.4" text-anchor="middle">14</text>
<text transform="translate(364.72,340.80) scale(0.9,1)" font-size="8.4" text-anchor="middle">16</text>
<text transform="translate(407.06,340.80) scale(0.9,1)" font-size="8.4" text-anchor="middle">18</text>
<text transform="translate(449.40,340.80) scale(0.9,1)" font-size="8.4" text-anchor="middle">20</text>
</g>
<text x="252.5" y="351.60" text-anchor="middle" font-family='"Liberation Sans", Arial, sans-serif' font-size="8.9" fill="#262626" stroke="#262626" stroke-width="0.2">Time [months]</text>
<text transform="translate(8.2,256.1) rotate(-90)" text-anchor="middle" font-family='"Liberation Sans", Arial, sans-serif' font-size="8.95" fill="#262626" stroke="#262626" stroke-width="0.2">Polymerized Fraction [%]</text>
<text x="1.2" y="197.20" font-family='"Liberation Serif", serif' font-weight="bold" font-size="9" fill="#222">(B)</text>
<rect x="484.8" y="202.8" width="32.7" height="112.3" fill="#fff" stroke="#3a3a3a" stroke-width="0.7"/>
<g font-family='"Liberation Sans", Arial, sans-serif' fill="#111" stroke="#111" stroke-width="0.3">
<line x1="486.3" x2="492.90000000000003" y1="207.70" y2="207.70" stroke="#1f77b4" stroke-width="0.7"/>
<circle cx="489.60" cy="207.70" r="2.30" fill="#1f77b4"/>
<text transform="translate(493.70,210.25) scale(0.9,1)" font-size="8.1" text-anchor="start">BCL2</text>
<line x1="486.3" x2="492.90000000000003" y1="216.30" y2="216.30" stroke="#ff7f0e" stroke-width="0.7"/>
<rect x="487.45" y="214.15" width="4.30" height="4.30" fill="#ff7f0e"/>
<text transform="translate(493.70,218.85) scale(0.9,1)" font-size="8.1" text-anchor="start">BCL3</text>
<line x1="486.3" x2="492.90000000000003" y1="224.90" y2="224.90" stroke="#2ca02c" stroke-width="0.7"/>
<polygon points="489.60,221.80 492.10,224.90 489.60,228.00 487.10,224.90" fill="#2ca02c"/>
<text transform="translate(493.70,227.45) scale(0.9,1)" font-size="8.1" text-anchor="start">BCL4</text>
<line x1="486.3" x2="492.90000000000003" y1="233.50" y2="233.50" stroke="#d62728" stroke-width="0.7"/>
<polygon points="491.75,233.50 490.68,235.36 488.53,235.36 487.45,233.50 488.53,231.64 490.68,231.64" fill="#d62728"/>
<text transform="translate(493.70,236.05) scale(0.9,1)" font-size="8.1" text-anchor="start">BCL6</text>
<line x1="486.3" x2="492.90000000000003" y1="242.10" y2="242.10" stroke="#9467bd" stroke-width="0.7"/>
<polygon points="489.60,239.00 492.40,244.20 486.80,244.20" fill="#9467bd"/>
<text transform="translate(493.70,244.65) scale(0.9,1)" font-size="8.1" text-anchor="start">BCL7</text>
<line x1="486.3" x2="492.90000000000003" y1="250.70" y2="250.70" stroke="#8c564b" stroke-width="0.7"/>
<path d="M487.56,250.70L491.64,250.70M488.58,248.93L490.62,252.47M490.62,248.93L488.58,252.47" stroke="#8c564b" stroke-width="0.8" fill="none"/><circle cx="489.60" cy="250.70" r="1.02" fill="#8c564b"/>
<text transform="translate(493.70,253.25) scale(0.9,1)" font-size="8.1" text-anchor="start">BCL8</text>
<line x1="486.3" x2="492.90000000000003" y1="259.30" y2="259.30" stroke="#e377c2" stroke-width="0.7"/>
<polygon points="489.60,256.74 490.31,258.33 492.03,258.51 490.74,259.67 491.10,261.37 489.60,260.50 488.10,261.37 488.46,259.67 487.17,258.51 488.89,258.33" fill="#e377c2"/>
<text transform="translate(493.70,261.85) scale(0.9,1)" font-size="8.1" text-anchor="start">BCL9</text>
<rect x="486.3" y="264.60" width="6.6" height="6.6" fill="#d0d0d0"/>
<text transform="translate(493.70,270.45) scale(0.9,1)" font-size="8.1" text-anchor="start">HU</text>
<line x1="486.1" x2="493.1" y1="276.50" y2="276.50" stroke="#2fc3d5" stroke-width="1.2" stroke-dasharray="1.4 0.9"/>
<text transform="translate(493.70,279.05) scale(0.9,1)" font-size="8.1" text-anchor="start">HU1</text>
<line x1="486.1" x2="493.1" y1="285.10" y2="285.10" stroke="#bdbe1e" stroke-width="1.2" stroke-dasharray="3.6 1 1 1"/>
<text transform="translate(493.70,287.65) scale(0.9,1)" font-size="8.1" text-anchor="start">HU2</text>
<line x1="486.1" x2="493.1" y1="293.70" y2="293.70" stroke="#5c5c5c" stroke-width="0.85"/>
<text transform="translate(493.70,296.25) scale(0.9,1)" font-size="8.1" text-anchor="start">HU3</text>
<rect x="486.3" y="299.00" width="6.6" height="6.6" fill="#7fcdf7"/>
<text transform="translate(493.70,304.85) scale(0.9,1)" font-size="8.1" text-anchor="start">SCT</text>
<circle cx="489.3" cy="310.90" r="3.65" fill="none" stroke="#1c1c1c" stroke-width="0.8"/>
<text transform="translate(493.40,313.45) scale(0.9,1)" font-size="8.1" text-anchor="start">HbA=0</text>
</g>
</g>
<g>
<rect x="26.20" y="425.03" width="35.8" height="112.67" fill="#1171ba"/>
<rect x="71.20" y="461.67" width="35.8" height="76.03" fill="#1171ba"/>
<rect x="116.35" y="457.32" width="35.8" height="80.38" fill="#1171ba"/>
<rect x="161.35" y="457.78" width="35.8" height="79.92" fill="#1171ba"/>
<rect x="206.50" y="475.41" width="35.8" height="62.29" fill="#1171ba"/>
<rect x="251.60" y="476.56" width="35.8" height="61.14" fill="#1171ba"/>
<rect x="296.60" y="431.90" width="35.8" height="105.80" fill="#1171ba"/>
<rect x="386.60" y="446.33" width="35.8" height="91.37" fill="#1171ba"/>
<rect x="431.70" y="407.86" width="35.8" height="129.84" fill="#1171ba"/>
<rect x="476.70" y="413.58" width="35.8" height="124.12" fill="#1171ba"/>
<path d="M44.10,392.97V452.51" stroke="#0d0d0d" stroke-width="1" fill="none"/>
<path d="M42.40,393.27h3.4M42.40,452.21h3.4" stroke="#0d0d0d" stroke-width="1.1" fill="none"/>
<path d="M89.10,420.91V487.32" stroke="#0d0d0d" stroke-width="1" fill="none"/>
<path d="M87.40,421.21h3.4M87.40,487.02h3.4" stroke="#0d0d0d" stroke-width="1.1" fill="none"/>
<path d="M134.25,418.16V498.08" stroke="#0d0d0d" stroke-width="1" fill="none"/>
<path d="M132.55,418.46h3.4M132.55,497.78h3.4" stroke="#0d0d0d" stroke-width="1.1" fill="none"/>
<path d="M179.25,441.06V481.82" stroke="#0d0d0d" stroke-width="1" fill="none"/>
<path d="M177.55,441.36h3.4M177.55,481.52h3.4" stroke="#0d0d0d" stroke-width="1.1" fill="none"/>
<path d="M224.40,463.28V487.32" stroke="#0d0d0d" stroke-width="1" fill="none"/>
<path d="M222.70,463.58h3.4M222.70,487.02h3.4" stroke="#0d0d0d" stroke-width="1.1" fill="none"/>
<path d="M269.50,464.65V487.78" stroke="#0d0d0d" stroke-width="1" fill="none"/>
<path d="M267.80,464.95h3.4M267.80,487.48h3.4" stroke="#0d0d0d" stroke-width="1.1" fill="none"/>
<path d="M314.50,412.21V452.05" stroke="#0d0d0d" stroke-width="1" fill="none"/>
<path d="M312.80,412.51h3.4M312.80,451.75h3.4" stroke="#0d0d0d" stroke-width="1.1" fill="none"/>
<path d="M404.50,428.47V463.28" stroke="#0d0d0d" stroke-width="1" fill="none"/>
<path d="M402.80,428.77h3.4M402.80,462.98h3.4" stroke="#0d0d0d" stroke-width="1.1" fill="none"/>
<path d="M449.60,381.75V432.13" stroke="#0d0d0d" stroke-width="1" fill="none"/>
<path d="M447.90,382.05h3.4M447.90,431.83h3.4" stroke="#0d0d0d" stroke-width="1.1" fill="none"/>
<path d="M494.60,389.77V437.17" stroke="#0d0d0d" stroke-width="1" fill="none"/>
<path d="M492.90,390.07h3.4M492.90,436.87h3.4" stroke="#0d0d0d" stroke-width="1.1" fill="none"/>
<rect x="21.75" y="367.8" width="495.45000000000005" height="169.90000000000003" fill="none" stroke="#2e2e2e" stroke-width="1.2"/>
<path d="M44.10,367.8v4.8M89.10,367.8v4.8M134.25,367.8v4.8M179.25,367.8v4.8M224.40,367.8v4.8M269.50,367.8v4.8M314.50,367.8v4.8M359.50,367.8v4.8M359.50,537.7v-4.8M404.50,367.8v4.8M449.60,367.8v4.8M494.60,367.8v4.8M21.75,537.70h5.2M517.2,537.70h-5.2M21.75,514.80h5.2M517.2,514.80h-5.2M21.75,491.90h5.2M517.2,491.90h-5.2M21.75,469.00h5.2M517.2,469.00h-5.2M21.75,446.10h5.2M517.2,446.10h-5.2M21.75,423.20h5.2M517.2,423.20h-5.2M21.75,400.30h5.2M517.2,400.30h-5.2M21.75,377.40h5.2M517.2,377.40h-5.2" stroke="#2e2e2e" stroke-width="1" fill="none"/>
<g font-family='"Liberation Sans", Arial, sans-serif' fill="#262626" stroke="#262626" stroke-width="0.3">
<text x="44.10" y="380.7" text-anchor="middle" font-size="7.8">31.4</text>
<text transform="translate(49.50,544.4) rotate(-45)" text-anchor="end" font-size="7.6">BCL2</text>
<text x="89.10" y="380.7" text-anchor="middle" font-size="7.8">30.5</text>
<text transform="translate(94.50,544.4) rotate(-45)" text-anchor="end" font-size="7.6">BCL3</text>
<text x="134.25" y="380.7" text-anchor="middle" font-size="7.8">31.3</text>
<text transform="translate(139.65,544.4) rotate(-45)" text-anchor="end" font-size="7.6">BCL4</text>
<text x="179.25" y="380.7" text-anchor="middle" font-size="7.8">26.5</text>
<text transform="translate(184.65,544.4) rotate(-45)" text-anchor="end" font-size="7.6">BCL6</text>
<text x="224.40" y="380.7" text-anchor="middle" font-size="7.8">27.4</text>
<text transform="translate(229.80,544.4) rotate(-45)" text-anchor="end" font-size="7.6">BCL7</text>
<text x="269.50" y="380.7" text-anchor="middle" font-size="7.8">33.9</text>
<text transform="translate(274.90,544.4) rotate(-45)" text-anchor="end" font-size="7.6">BCL8</text>
<text x="314.50" y="380.7" text-anchor="middle" font-size="7.8">38.4</text>
<text transform="translate(319.90,544.4) rotate(-45)" text-anchor="end" font-size="7.6">BCL9</text>
<text x="404.50" y="380.7" text-anchor="middle" font-size="7.8">40.7</text>
<text transform="translate(409.90,544.4) rotate(-45)" text-anchor="end" font-size="7.6">HU1</text>
<text x="449.60" y="380.7" text-anchor="middle" font-size="7.8">33.2</text>
<text transform="translate(455.00,544.4) rotate(-45)" text-anchor="end" font-size="7.6">HU2</text>
<text x="494.60" y="380.7" text-anchor="middle" font-size="7.8">35.4</text>
<text transform="translate(500.00,544.4) rotate(-45)" text-anchor="end" font-size="7.6">HU3</text>
<text transform="translate(15.0,381.4) rotate(-12) scale(0.9,1)" y="2.95" text-anchor="middle" font-size="8.3">35</text>
<text transform="translate(15.0,404.1) rotate(-12) scale(0.9,1)" y="2.95" text-anchor="middle" font-size="8.3">30</text>
<text transform="translate(15.1,426.6) rotate(-8) scale(0.9,1)" y="2.95" text-anchor="middle" font-size="8.3">25</text>
<text transform="translate(15.2,449.4) rotate(-5) scale(0.9,1)" y="2.95" text-anchor="middle" font-size="8.3">20</text>
<text transform="translate(15.3,470.9) rotate(-2) scale(0.9,1)" y="2.95" text-anchor="middle" font-size="8.3">15</text>
<text transform="translate(15.3,493.8) rotate(0) scale(0.9,1)" y="2.95" text-anchor="middle" font-size="8.3">10</text>
<text transform="translate(17.1,516.1) rotate(0) scale(0.9,1)" y="2.95" text-anchor="middle" font-size="8.3">5</text>
<text transform="translate(17.1,538.1) rotate(0) scale(0.9,1)" y="2.95" text-anchor="middle" font-size="8.3">0</text>
</g>
<text x="269.4" y="365.9" text-anchor="middle" font-family='"Liberation Sans", Arial, sans-serif' font-size="7.7" fill="#262626" stroke="#262626" stroke-width="0.25">MCH [pg]</text>
<text transform="translate(8.4,454.8) rotate(-90)" text-anchor="middle" font-family='"Liberation Sans", Arial, sans-serif' font-size="8.4" fill="#262626" stroke="#262626" stroke-width="0.2" textLength="120.5" lengthAdjust="spacingAndGlyphs">(HbF-Mass Threshold)/MCH [%]</text>
<text x="1.2" y="373.0" font-family='"Liberation Serif", serif' font-weight="bold" font-size="9" fill="#222">(C)</text>
</g>
<rect x="1.5" y="564.3" width="517.5" height="157.7" fill="#fff" stroke="#5a5a5a" stroke-width="0.9"/>
<g font-family='"Liberation Sans", Arial, sans-serif' font-size="10.4" fill="#111" stroke="#111" stroke-width="0.3">
<text x="9.50" y="578.60" textLength="28.80" lengthAdjust="spacingAndGlyphs">Figure</text>
<text x="40.88" y="578.60" textLength="8.64" lengthAdjust="spacingAndGlyphs">1.</text>
<text x="54.66" y="578.60" textLength="13.79" lengthAdjust="spacingAndGlyphs">(<tspan font-weight="bold">A</tspan>)</text>
<text x="71.02" y="578.60" textLength="17.18" lengthAdjust="spacingAndGlyphs">The</text>
<text x="90.78" y="578.60" textLength="36.10" lengthAdjust="spacingAndGlyphs">fraction</text>
<text x="129.46" y="578.60" textLength="9.47" lengthAdjust="spacingAndGlyphs">of</text>
<text x="141.50" y="578.60" textLength="22.89" lengthAdjust="spacingAndGlyphs">RBCs</text>
<text x="166.96" y="578.60" textLength="20.54" lengthAdjust="spacingAndGlyphs">with</text>
<text x="190.07" y="578.60" textLength="49.44" lengthAdjust="spacingAndGlyphs">detectable</text>
<text x="242.08" y="578.60" textLength="26.14" lengthAdjust="spacingAndGlyphs">levels</text>
<text x="270.79" y="578.60" textLength="9.47" lengthAdjust="spacingAndGlyphs">of</text>
<text x="282.83" y="578.60" textLength="13.07" lengthAdjust="spacingAndGlyphs">Hb</text>
<text x="298.47" y="578.60" textLength="38.46" lengthAdjust="spacingAndGlyphs">polymer</text>
<text x="339.50" y="578.60" textLength="9.26" lengthAdjust="spacingAndGlyphs">at</text>
<text x="351.34" y="578.60" textLength="22.54" lengthAdjust="spacingAndGlyphs">3.7%</text>
<text x="376.45" y="578.60" textLength="33.08" lengthAdjust="spacingAndGlyphs">oxygen</text>
<text x="412.10" y="578.60" textLength="18.04" lengthAdjust="spacingAndGlyphs">was</text>
<text x="432.71" y="578.60" textLength="46.24" lengthAdjust="spacingAndGlyphs">measured</text>
<text x="481.52" y="578.60" textLength="8.59" lengthAdjust="spacingAndGlyphs">in</text>
<text x="9.50" y="593.60" textLength="26.52" lengthAdjust="spacingAndGlyphs">blood</text>
<text x="38.59" y="593.60" textLength="37.63" lengthAdjust="spacingAndGlyphs">samples</text>
<text x="78.79" y="593.60" textLength="22.49" lengthAdjust="spacingAndGlyphs">from</text>
<text x="103.85" y="593.60" textLength="17.01" lengthAdjust="spacingAndGlyphs">BCL</text>
<text x="123.43" y="593.60" textLength="37.80" lengthAdjust="spacingAndGlyphs">subjects</text>
<text x="163.80" y="593.60" textLength="13.42" lengthAdjust="spacingAndGlyphs">for</text>
<text x="179.79" y="593.60" textLength="11.94" lengthAdjust="spacingAndGlyphs">up</text>
<text x="194.29" y="593.60" textLength="9.80" lengthAdjust="spacingAndGlyphs">to</text>
<text x="206.66" y="593.60" textLength="11.52" lengthAdjust="spacingAndGlyphs">23</text>
<text x="220.74" y="593.60" textLength="35.25" lengthAdjust="spacingAndGlyphs">months</text>
<text x="258.56" y="593.60" textLength="42.70" lengthAdjust="spacingAndGlyphs">following</text>
<text x="303.83" y="593.60" textLength="50.03" lengthAdjust="spacingAndGlyphs">treatment.</text>
<text x="359.00" y="593.60" textLength="24.20" lengthAdjust="spacingAndGlyphs">Black</text>
<text x="385.76" y="593.60" textLength="28.88" lengthAdjust="spacingAndGlyphs">circles</text>
<text x="417.21" y="593.60" textLength="35.22" lengthAdjust="spacingAndGlyphs">identify</text>
<text x="454.99" y="593.60" textLength="20.66" lengthAdjust="spacingAndGlyphs">data</text>
<text x="478.22" y="593.60" textLength="28.78" lengthAdjust="spacingAndGlyphs">points</text>
<text x="9.50" y="608.60" textLength="20.49" lengthAdjust="spacingAndGlyphs">with</text>
<text x="32.55" y="608.60" textLength="13.87" lengthAdjust="spacingAndGlyphs">0%</text>
<text x="48.99" y="608.60" textLength="22.47" lengthAdjust="spacingAndGlyphs">HbA.</text>
<text x="76.59" y="608.60" textLength="26.89" lengthAdjust="spacingAndGlyphs">Other</text>
<text x="106.04" y="608.60" textLength="20.64" lengthAdjust="spacingAndGlyphs">data</text>
<text x="129.25" y="608.60" textLength="28.76" lengthAdjust="spacingAndGlyphs">points</text>
<text x="160.58" y="608.60" textLength="45.03" lengthAdjust="spacingAndGlyphs">represent</text>
<text x="208.17" y="608.60" textLength="40.46" lengthAdjust="spacingAndGlyphs">fractions</text>
<text x="251.19" y="608.60" textLength="9.45" lengthAdjust="spacingAndGlyphs">of</text>
<text x="263.21" y="608.60" textLength="20.70" lengthAdjust="spacingAndGlyphs">(100</text>
<text x="286.48" y="608.60" textLength="5.65" lengthAdjust="spacingAndGlyphs">–</text>
<text x="294.70" y="608.60" textLength="34.03" lengthAdjust="spacingAndGlyphs">HbA%).</text>
<text x="333.85" y="608.60" textLength="17.14" lengthAdjust="spacingAndGlyphs">The</text>
<text x="353.56" y="608.60" textLength="19.88" lengthAdjust="spacingAndGlyphs">gray</text>
<text x="376.01" y="608.60" textLength="29.50" lengthAdjust="spacingAndGlyphs">region</text>
<text x="408.08" y="608.60" textLength="28.94" lengthAdjust="spacingAndGlyphs">shows</text>
<text x="439.59" y="608.60" textLength="15.41" lengthAdjust="spacingAndGlyphs">the</text>
<text x="9.50" y="623.60" textLength="58.00" lengthAdjust="spacingAndGlyphs">interquartile</text>
<text x="70.06" y="623.60" textLength="26.37" lengthAdjust="spacingAndGlyphs">range</text>
<text x="99.00" y="623.60" textLength="23.56" lengthAdjust="spacingAndGlyphs">(IQR)</text>
<text x="125.13" y="623.60" textLength="9.46" lengthAdjust="spacingAndGlyphs">of</text>
<text x="137.15" y="623.60" textLength="90.37" lengthAdjust="spacingAndGlyphs">polymer-containing</text>
<text x="230.09" y="623.60" textLength="18.40" lengthAdjust="spacingAndGlyphs">RBC</text>
<text x="251.06" y="623.60" textLength="40.48" lengthAdjust="spacingAndGlyphs">fractions</text>
<text x="294.11" y="623.60" textLength="46.16" lengthAdjust="spacingAndGlyphs">measured</text>
<text x="342.83" y="623.60" textLength="13.42" lengthAdjust="spacingAndGlyphs">for</text>
<text x="358.82" y="623.60" textLength="5.44" lengthAdjust="spacingAndGlyphs">a</text>
<text x="366.83" y="623.60" textLength="13.90" lengthAdjust="spacingAndGlyphs">set</text>
<text x="383.29" y="623.60" textLength="9.46" lengthAdjust="spacingAndGlyphs">of</text>
<text x="395.32" y="623.60" textLength="11.51" lengthAdjust="spacingAndGlyphs">14</text>
<text x="409.40" y="623.60" textLength="37.69" lengthAdjust="spacingAndGlyphs">patients</text>
<text x="449.65" y="623.60" textLength="34.28" lengthAdjust="spacingAndGlyphs">treated</text>
<text x="486.50" y="623.60" textLength="20.50" lengthAdjust="spacingAndGlyphs">with</text>
<text x="9.50" y="638.60" textLength="14.38" lengthAdjust="spacingAndGlyphs">HU</text>
<text x="26.45" y="638.60" textLength="29.60" lengthAdjust="spacingAndGlyphs">(mean</text>
<text x="58.62" y="638.60" textLength="18.28" lengthAdjust="spacingAndGlyphs">HbF</text>
<text x="79.47" y="638.60" textLength="22.49" lengthAdjust="spacingAndGlyphs">17%,</text>
<text x="104.52" y="638.60" textLength="26.39" lengthAdjust="spacingAndGlyphs">range</text>
<text x="133.48" y="638.60" textLength="5.76" lengthAdjust="spacingAndGlyphs">6</text>
<text x="141.81" y="638.60" textLength="3.48" lengthAdjust="spacingAndGlyphs">-</text>
<text x="147.86" y="638.60" textLength="17.84" lengthAdjust="spacingAndGlyphs">32).</text>
<text x="170.84" y="638.60" textLength="26.79" lengthAdjust="spacingAndGlyphs">Three</text>
<text x="200.20" y="638.60" textLength="27.66" lengthAdjust="spacingAndGlyphs">highly</text>
<text x="230.43" y="638.60" textLength="49.85" lengthAdjust="spacingAndGlyphs">responsive</text>
<text x="282.85" y="638.60" textLength="14.38" lengthAdjust="spacingAndGlyphs">HU</text>
<text x="299.80" y="638.60" textLength="37.83" lengthAdjust="spacingAndGlyphs">subjects</text>
<text x="340.20" y="638.60" textLength="15.06" lengthAdjust="spacingAndGlyphs">are</text>
<text x="357.83" y="638.60" textLength="30.51" lengthAdjust="spacingAndGlyphs">shown</text>
<text x="390.92" y="638.60" textLength="48.15" lengthAdjust="spacingAndGlyphs">separately</text>
<text x="441.63" y="638.60" textLength="26.42" lengthAdjust="spacingAndGlyphs">(HU1,</text>
<text x="470.63" y="638.60" textLength="22.97" lengthAdjust="spacingAndGlyphs">HU2,</text>
<text x="9.50" y="653.60" textLength="26.46" lengthAdjust="spacingAndGlyphs">HU3).</text>
<text x="41.10" y="653.60" textLength="17.17" lengthAdjust="spacingAndGlyphs">The</text>
<text x="60.84" y="653.60" textLength="20.21" lengthAdjust="spacingAndGlyphs">blue</text>
<text x="83.62" y="653.60" textLength="29.55" lengthAdjust="spacingAndGlyphs">region</text>
<text x="115.75" y="653.60" textLength="28.99" lengthAdjust="spacingAndGlyphs">shows</text>
<text x="147.31" y="653.60" textLength="15.44" lengthAdjust="spacingAndGlyphs">the</text>
<text x="165.32" y="653.60" textLength="26.39" lengthAdjust="spacingAndGlyphs">range</text>
<text x="194.28" y="653.60" textLength="9.47" lengthAdjust="spacingAndGlyphs">of</text>
<text x="206.31" y="653.60" textLength="57.16" lengthAdjust="spacingAndGlyphs">polymerized</text>
<text x="266.04" y="653.60" textLength="18.42" lengthAdjust="spacingAndGlyphs">RBC</text>
<text x="287.03" y="653.60" textLength="40.52" lengthAdjust="spacingAndGlyphs">fractions</text>
<text x="330.12" y="653.60" textLength="13.43" lengthAdjust="spacingAndGlyphs">for</text>
<text x="346.12" y="653.60" textLength="5.76" lengthAdjust="spacingAndGlyphs">4</text>
<text x="354.46" y="653.60" textLength="49.36" lengthAdjust="spacingAndGlyphs">individuals</text>
<text x="406.39" y="653.60" textLength="20.52" lengthAdjust="spacingAndGlyphs">with</text>
<text x="429.48" y="653.60" textLength="25.30" lengthAdjust="spacingAndGlyphs">sickle</text>
<text x="457.34" y="653.60" textLength="22.51" lengthAdjust="spacingAndGlyphs">trait.</text>
<text x="482.42" y="653.60" textLength="13.27" lengthAdjust="spacingAndGlyphs">(<tspan font-weight="bold">B</tspan>)</text>
<text x="9.50" y="668.60" textLength="56.94" lengthAdjust="spacingAndGlyphs">Polymerized</text>
<text x="69.01" y="668.60" textLength="18.38" lengthAdjust="spacingAndGlyphs">RBC</text>
<text x="89.95" y="668.60" textLength="40.44" lengthAdjust="spacingAndGlyphs">fractions</text>
<text x="132.96" y="668.60" textLength="23.36" lengthAdjust="spacingAndGlyphs">were</text>
<text x="158.88" y="668.60" textLength="46.10" lengthAdjust="spacingAndGlyphs">measured</text>
<text x="207.55" y="668.60" textLength="9.24" lengthAdjust="spacingAndGlyphs">at</text>
<text x="219.35" y="668.60" textLength="22.48" lengthAdjust="spacingAndGlyphs">1.7%</text>
<text x="244.39" y="668.60" textLength="32.98" lengthAdjust="spacingAndGlyphs">oxygen</text>
<text x="279.94" y="668.60" textLength="13.40" lengthAdjust="spacingAndGlyphs">for</text>
<text x="295.90" y="668.60" textLength="15.41" lengthAdjust="spacingAndGlyphs">the</text>
<text x="313.87" y="668.60" textLength="24.58" lengthAdjust="spacingAndGlyphs">same</text>
<text x="341.02" y="668.60" textLength="40.62" lengthAdjust="spacingAndGlyphs">subjects.</text>
<text x="386.77" y="668.60" textLength="12.89" lengthAdjust="spacingAndGlyphs">(<tspan font-weight="bold">C</tspan>)</text>
<text x="402.22" y="668.60" textLength="49.22" lengthAdjust="spacingAndGlyphs">Single-RBC</text>
<text x="454.01" y="668.60" textLength="13.03" lengthAdjust="spacingAndGlyphs">Hb</text>
<text x="469.61" y="668.60" textLength="38.35" lengthAdjust="spacingAndGlyphs">polymer</text>
<text x="9.50" y="683.60" textLength="17.35" lengthAdjust="spacingAndGlyphs">and</text>
<text x="29.42" y="683.60" textLength="48.43" lengthAdjust="spacingAndGlyphs">single-RBC</text>
<text x="80.41" y="683.60" textLength="18.24" lengthAdjust="spacingAndGlyphs">HbF</text>
<text x="101.21" y="683.60" textLength="21.62" lengthAdjust="spacingAndGlyphs">level</text>
<text x="125.39" y="683.60" textLength="69.03" lengthAdjust="spacingAndGlyphs">measurements</text>
<text x="196.99" y="683.60" textLength="23.35" lengthAdjust="spacingAndGlyphs">were</text>
<text x="222.90" y="683.60" textLength="45.96" lengthAdjust="spacingAndGlyphs">combined</text>
<text x="271.43" y="683.60" textLength="9.78" lengthAdjust="spacingAndGlyphs">to</text>
<text x="283.77" y="683.60" textLength="40.42" lengthAdjust="spacingAndGlyphs">estimate</text>
<text x="326.75" y="683.60" textLength="15.40" lengthAdjust="spacingAndGlyphs">the</text>
<text x="344.72" y="683.60" textLength="44.30" lengthAdjust="spacingAndGlyphs">threshold</text>
<text x="391.58" y="683.60" textLength="21.62" lengthAdjust="spacingAndGlyphs">level</text>
<text x="415.76" y="683.60" textLength="9.44" lengthAdjust="spacingAndGlyphs">of</text>
<text x="427.77" y="683.60" textLength="48.43" lengthAdjust="spacingAndGlyphs">single-RBC</text>
<text x="478.76" y="683.60" textLength="18.24" lengthAdjust="spacingAndGlyphs">HbF</text>
<text x="9.50" y="698.60" textLength="39.71" lengthAdjust="spacingAndGlyphs">required</text>
<text x="51.78" y="698.60" textLength="9.79" lengthAdjust="spacingAndGlyphs">to</text>
<text x="64.13" y="698.60" textLength="36.11" lengthAdjust="spacingAndGlyphs">prevent</text>
<text x="102.81" y="698.60" textLength="46.27" lengthAdjust="spacingAndGlyphs">formation</text>
<text x="151.65" y="698.60" textLength="9.45" lengthAdjust="spacingAndGlyphs">of</text>
<text x="163.66" y="698.60" textLength="49.32" lengthAdjust="spacingAndGlyphs">detectable</text>
<text x="215.55" y="698.60" textLength="26.07" lengthAdjust="spacingAndGlyphs">levels</text>
<text x="244.19" y="698.60" textLength="9.45" lengthAdjust="spacingAndGlyphs">of</text>
<text x="256.21" y="698.60" textLength="13.04" lengthAdjust="spacingAndGlyphs">Hb</text>
<text x="271.81" y="698.60" textLength="38.37" lengthAdjust="spacingAndGlyphs">polymer</text>
<text x="312.74" y="698.60" textLength="9.24" lengthAdjust="spacingAndGlyphs">at</text>
<text x="324.55" y="698.60" textLength="22.49" lengthAdjust="spacingAndGlyphs">4.7%</text>
<text x="349.60" y="698.60" textLength="33.00" lengthAdjust="spacingAndGlyphs">oxygen</text>
<text x="385.17" y="698.60" textLength="13.41" lengthAdjust="spacingAndGlyphs">for</text>
<text x="401.14" y="698.60" textLength="17.00" lengthAdjust="spacingAndGlyphs">BCL</text>
<text x="420.71" y="698.60" textLength="37.77" lengthAdjust="spacingAndGlyphs">subjects</text>
<text x="461.05" y="698.60" textLength="17.37" lengthAdjust="spacingAndGlyphs">and</text>
<text x="480.98" y="698.60" textLength="25.02" lengthAdjust="spacingAndGlyphs">three</text>
<text x="9.50" y="713.60" textLength="27.68" lengthAdjust="spacingAndGlyphs">highly</text>
<text x="39.75" y="713.60" textLength="49.88" lengthAdjust="spacingAndGlyphs">responsive</text>
<text x="92.20" y="713.60" textLength="14.39" lengthAdjust="spacingAndGlyphs">HU</text>
<text x="109.16" y="713.60" textLength="40.72" lengthAdjust="spacingAndGlyphs">subjects.</text>
<text x="155.02" y="713.60" textLength="22.88" lengthAdjust="spacingAndGlyphs">MCH</text>
<text x="180.47" y="713.60" textLength="26.13" lengthAdjust="spacingAndGlyphs">levels</text>
<text x="209.17" y="713.60" textLength="13.44" lengthAdjust="spacingAndGlyphs">for</text>
<text x="225.18" y="713.60" textLength="21.89" lengthAdjust="spacingAndGlyphs">each</text>
<text x="249.64" y="713.60" textLength="33.40" lengthAdjust="spacingAndGlyphs">subject</text>
<text x="285.62" y="713.60" textLength="15.07" lengthAdjust="spacingAndGlyphs">are</text>
<text x="303.26" y="713.60" textLength="30.53" lengthAdjust="spacingAndGlyphs">shown</text>
<text x="336.37" y="713.60" textLength="25.39" lengthAdjust="spacingAndGlyphs">along</text>
<text x="364.33" y="713.60" textLength="15.45" lengthAdjust="spacingAndGlyphs">the</text>
<text x="382.34" y="713.60" textLength="18.66" lengthAdjust="spacingAndGlyphs">top.</text>
</g>
</svg>
</body></html>
